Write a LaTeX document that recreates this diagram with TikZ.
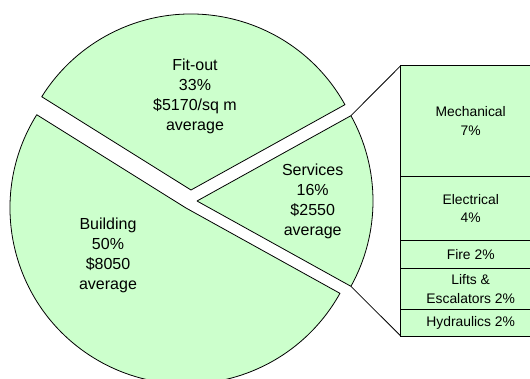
\documentclass[tikz,border=0pt]{standalone}
\usepackage{fontspec}
\setmainfont{Liberation Sans}
\usetikzlibrary{positioning}
\definecolor{slicegreen}{RGB}{204,255,204}
\tikzset{
  slice/.style={draw=black, fill=slicegreen, line width=0.6pt, line join=round},
  pielabel/.style={align=center, font=\fontsize{12}{15}\selectfont},
  rowbox/.style={draw=black, fill=slicegreen, line width=0.6pt, inner sep=0pt, outer sep=0pt,
    minimum width=105pt, align=center, font=\fontsize{10.4}{14}\selectfont}
}
\begin{document}
\begin{tikzpicture}[x=0.75pt, y=0.75pt]
\useasboundingbox (0,0) rectangle (530,-378);
%画布大小(530x378)
\coordinate (fitc) at (191,-190);
\coordinate (bldc) at (186,-208);
\coordinate (svcc) at (197,-201);
%三个扇形的顶点
\draw[slice] (fitc) -- +(29:176) arc[start angle=29, end angle=148, radius=176] -- cycle;
%绘制(draw)Fit-out扇形,33%
\draw[slice] (bldc) -- +(148:176) arc[start angle=148, end angle=331, radius=176] -- cycle;
%绘制(draw)Building扇形,50%
\draw[slice] (svcc) -- +(-29:176) coordinate (svbot) arc[start angle=-29, end angle=29, radius=176] coordinate (svtop) -- cycle;
%绘制(draw)Services扇形,16%,记下两端点(svbot)和(svtop)
\node[pielabel] (fitlbl) at (195,-96.5) {Fit-out\\33\%\\\$5170/sq m\\average};
\node[pielabel] (svclbl) at (312.7,-201.8) {Services\\16\%\\\$2550\\average};
\node[pielabel] (bldlbl) at (108,-255) {Building\\50\%\\\$8050\\average};
%扇形中的文字
\node[rowbox, minimum height=83.25pt, anchor=north west] (mech) at (400.7,-65.7) {Mechanical\\7\%};
\node[rowbox, minimum height=47.7pt, below=0pt of mech] (elec) {Electrical\\4\%};
\node[rowbox, minimum height=21.3pt, below=0pt of elec] (fire) {Fire 2\%};
\node[rowbox, minimum height=30.2pt, below=0pt of fire] (lift) {Lifts \&\\Escalators 2\%};
\node[rowbox, minimum height=20.25pt, below=0pt of lift] (hyd) {Hydraulics 2\%};
%右侧Services明细表,逐行放在上一行下方(below=0pt of)
\draw[line width=0.6pt] (svtop) -- (mech.north west);
\draw[line width=0.6pt] (svbot) -- (hyd.south west);
%从Services扇形两端连到明细表
\end{tikzpicture}
\end{document}
